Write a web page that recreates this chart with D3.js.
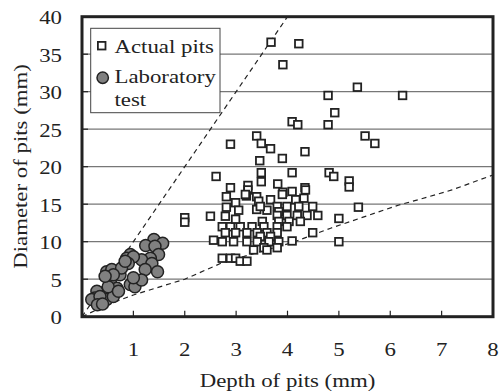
<!DOCTYPE html>
<html>
<head>
<meta charset="utf-8">
<script src="https://cdn.jsdelivr.net/npm/d3@7"></script>
<style>
  body { margin: 0; background: #fff; }
  svg { display: block; }
  text { font-family: "Liberation Serif", "Times New Roman", serif; fill: #222; }
</style>
</head>
<body>
<svg id="chart" width="499" height="392"></svg>
<script>
// Actual pits: [depth mm, diameter mm]
const actualPits = [
  [3.68,36.6],[4.22,36.4],[3.91,33.6],[4.79,29.5],[5.36,30.6],[6.24,29.5],[4.92,27.2],
  [4.09,26.0],[4.2,25.6],[4.79,25.6],[5.51,24.1],[5.7,23.1],[4.34,22.0],[3.9,21.1],
  [3.67,22.4],[3.4,24.1],[2.89,23.0],[3.49,23.1],[3.46,20.8],[4.09,19.2],[4.81,19.2],
  [4.9,18.7],[5.2,18.1],[5.2,17.3],[3.81,17.7],[3.91,16.6],[4.34,17.2],[5.38,14.6],
  [2.61,18.7],[3.49,19.2],[3.49,18.0],[2.89,17.2],[3.23,17.5],[3.23,16.9],[5.0,13.1],
  [4.49,11.2],[4.09,10.1],[5.0,10.0],[4.59,13.5],[4.49,14.7],[4.32,15.8],[4.09,16.7],
  [4.35,16.9],[2.0,13.2],[2.0,12.6],[2.5,13.4],
  [2.81,16.0],[2.99,15.2],[3.2,16.1],[3.4,16.0],[3.44,15.4],[3.67,15.6],[2.81,14.6],
  [3.05,14.2],[3.4,14.3],[3.6,14.2],[3.18,16.3],[3.9,16.3],[4.16,15.6],
  [3.47,14.7],[3.8,14.7],[3.99,14.7],[4.22,14.7],[3.83,14.0],
  [3.8,13.5],[3.99,13.5],[4.19,13.5],[4.38,13.5],
  [3.51,12.7],[3.83,12.7],[4.03,12.7],[4.25,12.7],
  [2.73,12.0],[2.89,12.0],[3.08,12.0],[3.31,12.0],[3.54,12.0],[3.8,12.0],[3.99,12.0],
  [2.79,11.2],[2.99,11.2],[3.21,11.2],[3.41,11.2],[3.6,11.2],[3.8,11.2],
  [3.47,10.7],[3.67,10.7],
  [2.73,10.0],[2.95,10.0],[3.21,10.0],[3.41,10.0],[3.64,10.0],[3.83,10.0],
  [3.54,9.2],[3.8,9.2],[3.34,8.9],[3.6,8.9],
  [2.73,7.8],[2.89,7.8],[2.99,7.8],[3.08,7.4],[3.21,7.4],
  [2.56,10.2],[2.79,13.4],[2.99,13.0]
];

// Laboratory test: [depth mm, diameter mm]
const labTest = [
  [1.40,10.3],[1.57,9.8],[1.24,9.5],[1.42,9.4],[1.49,8.3],[1.33,7.8],[1.16,7.6],
  [1.36,7.1],[1.23,6.3],[1.47,6.0],[0.94,8.3],[0.87,7.8],[1.0,8.0],[0.9,7.1],
  [1.0,4.9],[0.94,4.3],[1.03,4.0],[1.16,4.9],[0.68,6.0],[0.74,5.6],[0.48,6.0],
  [0.58,6.3],[0.77,6.5],[0.55,4.7],[0.68,3.8],[0.55,3.4],[0.42,3.2],[0.29,3.4],
  [0.25,2.5],[0.35,2.0],[0.48,2.3],[0.61,2.7],[0.19,2.3],[0.35,2.7],[0.51,4.0],
  [0.84,7.4],[0.61,5.6],[0.45,5.4],[1.0,5.2],[0.71,3.4],[0.3,1.6],[0.4,1.7]
];

// envelope lines (dashed)
const upperBound = [[0,0],[4,40]];
const lowerBound = [[0,0],[0.5,1.6],[1,2.9],[2,5.0],[2.73,7.2],[4.1,9.9],[4.84,11.8],[6.17,14.9],[6.6,15.7],[7.2,16.9],[8,18.9]];

const xTicks = [1,2,3,4,5,6,7,8];
const yTicks = [0,5,10,15,20,25,30,35,40];
const legendItems = ['Actual pits', 'Laboratory', 'test'];

const svg = d3.select('#chart');
const mLeft = 82, mRight = 493, mTop = 16.7, mBottom = 316.7;
const stretch = 'scale(1.17,1)';
const fs = '19.5px';

const x = d3.scaleLinear().domain([0, 8]).range([mLeft, mRight]);
const y = d3.scaleLinear().domain([0, 40]).range([mBottom, mTop]);

svg.append('rect').attr('width', 499).attr('height', 392).attr('fill', '#fff');

// gridlines
svg.selectAll('line.grid')
  .data(yTicks.filter(v => v > 0 && v < 40))
  .enter().append('line')
  .attr('class', 'grid')
  .attr('x1', mLeft).attr('x2', mRight)
  .attr('y1', d => y(d)).attr('y2', d => y(d))
  .attr('stroke', '#777').attr('stroke-width', 1.2);

// inside ticks
svg.selectAll('line.xtick')
  .data(xTicks.slice(0, -1))
  .enter().append('line')
  .attr('x1', d => x(d)).attr('x2', d => x(d))
  .attr('y1', mBottom).attr('y2', mBottom - 6)
  .attr('stroke', '#222').attr('stroke-width', 1.2);

svg.selectAll('line.ytick')
  .data(yTicks.slice(1, -1))
  .enter().append('line')
  .attr('x1', mLeft).attr('x2', mLeft + 6)
  .attr('y1', d => y(d)).attr('y2', d => y(d))
  .attr('stroke', '#222').attr('stroke-width', 1.2);

// dashed envelope lines, clipped to plot
svg.append('clipPath').attr('id', 'plotclip')
  .append('rect').attr('x', mLeft).attr('y', mTop).attr('width', mRight - mLeft).attr('height', mBottom - mTop);

const line = d3.line().x(d => x(d[0])).y(d => y(d[1]));
[upperBound, lowerBound].forEach(pts => {
  svg.append('path')
    .attr('d', line(pts))
    .attr('clip-path', 'url(#plotclip)')
    .attr('fill', 'none')
    .attr('stroke', '#222')
    .attr('stroke-width', 1.2)
    .attr('stroke-dasharray', '5,4');
});

// points
svg.selectAll('rect.pit')
  .data(actualPits)
  .enter().append('rect')
  .attr('class', 'pit')
  .attr('x', d => x(d[0]) - 3.8).attr('y', d => y(d[1]) - 3.8)
  .attr('width', 7.6).attr('height', 7.6)
  .attr('fill', '#fff').attr('stroke', '#222').attr('stroke-width', 1.8);

svg.selectAll('circle.lab')
  .data(labTest)
  .enter().append('circle')
  .attr('class', 'lab')
  .attr('cx', d => x(d[0])).attr('cy', d => y(d[1]))
  .attr('r', 6)
  .attr('fill', '#808080').attr('stroke', '#222').attr('stroke-width', 1.5);

// frame
svg.append('rect')
  .attr('x', mLeft).attr('y', mTop)
  .attr('width', mRight - mLeft).attr('height', mBottom - mTop)
  .attr('fill', 'none').attr('stroke', '#222').attr('stroke-width', 3);

// tick labels
svg.selectAll('text.xlab')
  .data(xTicks)
  .enter().append('text')
  .attr('transform', d => `translate(${x(d)},355.5) ${stretch}`)
  .attr('text-anchor', 'middle')
  .style('font-size', fs)
  .text(d => d);

svg.selectAll('text.ylab')
  .data(yTicks)
  .enter().append('text')
  .attr('transform', d => `translate(62,${y(d)}) ${stretch}`)
  .attr('text-anchor', 'end')
  .attr('dy', '0.38em')
  .style('font-size', fs)
  .text(d => d);

// axis titles
svg.append('text')
  .attr('transform', `translate(${(mLeft + mRight) / 2},386.5) ${stretch}`)
  .attr('text-anchor', 'middle')
  .style('font-size', fs)
  .text('Depth of pits (mm)');

svg.append('text')
  .attr('transform', `translate(27,166.5) rotate(-90) ${stretch}`)
  .attr('text-anchor', 'middle')
  .style('font-size', fs)
  .text('Diameter of pits (mm)');

// legend
const lg = svg.append('g');
lg.append('rect')
  .attr('x', 90.7).attr('y', 28.3).attr('width', 129.3).attr('height', 84.4)
  .attr('fill', '#fff').attr('stroke', '#444').attr('stroke-width', 1);
lg.append('rect')
  .attr('x', 101.7 - 3.8).attr('y', 45.7 - 3.8).attr('width', 7.6).attr('height', 7.6)
  .attr('fill', '#fff').attr('stroke', '#222').attr('stroke-width', 1.8);
lg.append('circle')
  .attr('cx', 102.7).attr('cy', 77.7).attr('r', 5.7)
  .attr('fill', '#808080').attr('stroke', '#222').attr('stroke-width', 1.5);
lg.selectAll('text')
  .data(legendItems)
  .enter().append('text')
  .attr('transform', (d, i) => `translate(114.5,${[53.3, 83.3, 106][i]}) ${stretch}`)
  .style('font-size', fs)
  .text(d => d);
</script>
</body>
</html>
